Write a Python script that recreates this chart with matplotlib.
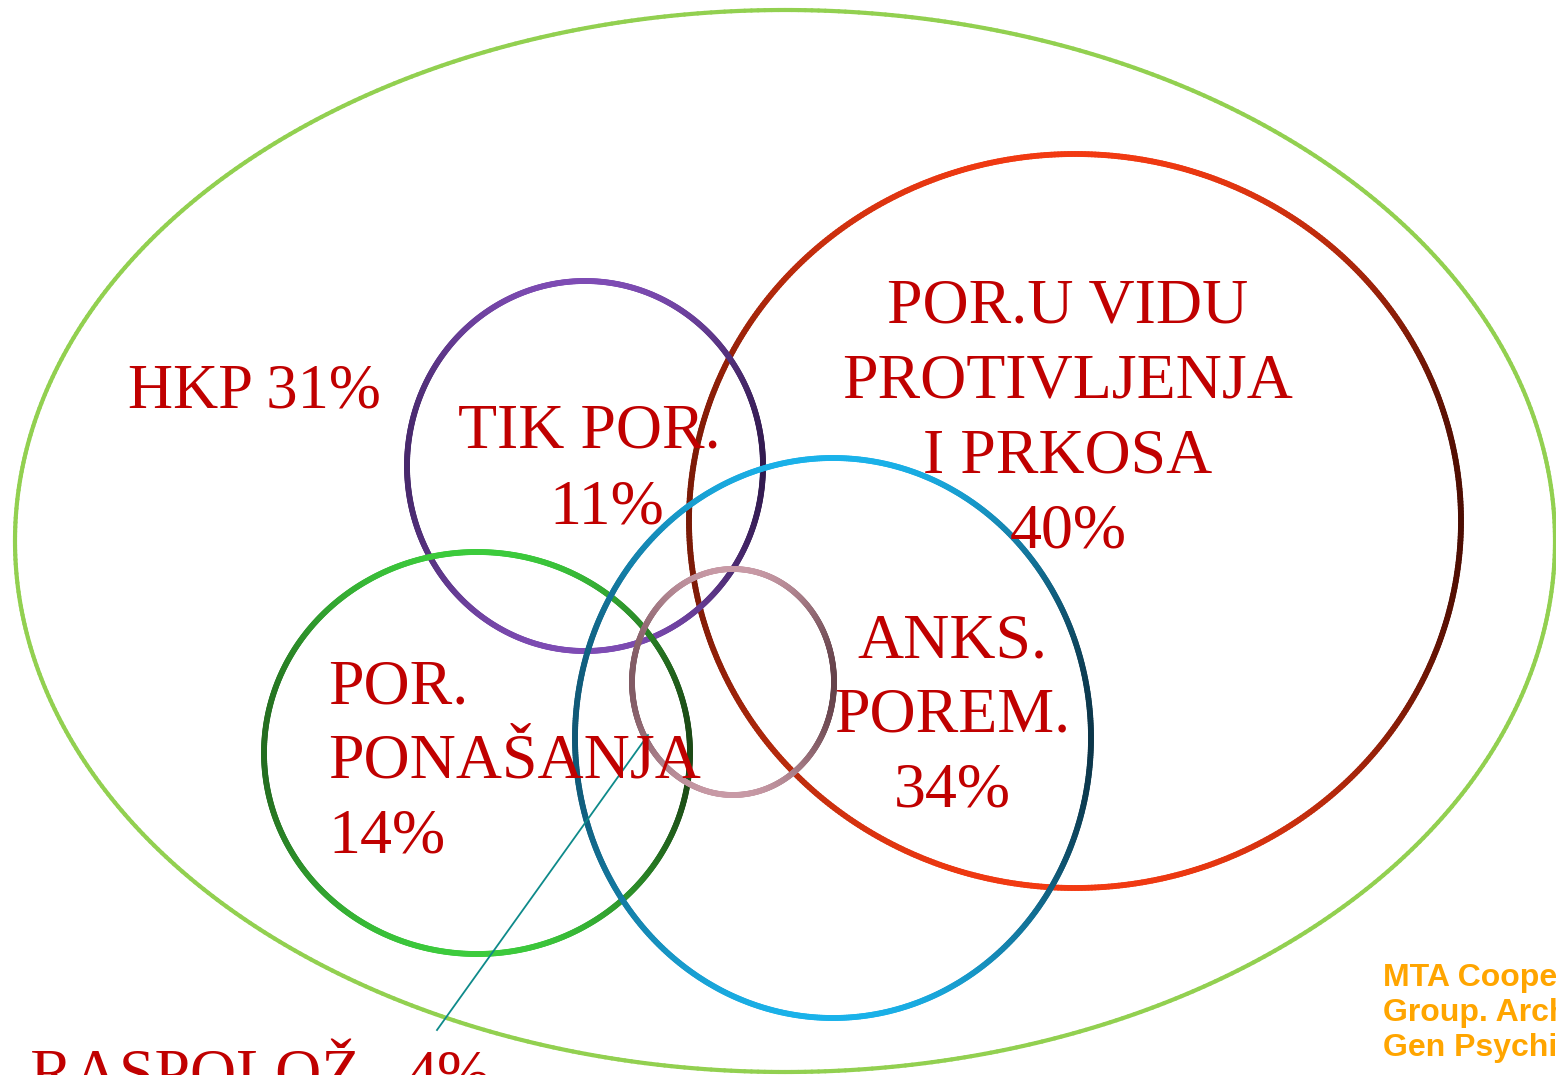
import numpy as np
import matplotlib
matplotlib.use("Agg")
import matplotlib.pyplot as plt
from matplotlib.collections import LineCollection
from matplotlib.colors import to_rgb

# Skupine i postoci
groups = ["HKP", "TIK POR.", "POR.U VIDU\nPROTIVLJENJA\nI PRKOSA", "ANKS.\nPOREM.", "POR.\nPONAŠANJA", "POR. RASPOLOŽ."]
percents = [31, 11, 40, 34, 14, 4]
source = "MTA Cooperative\nGroup. Arch\nGen Psychiatry"

W, H = 1556, 1075
fig = plt.figure(figsize=(W / 100, H / 100), dpi=100)
ax = fig.add_axes([0, 0, 1, 1])
ax.set_xlim(0, W)
ax.set_ylim(H, 0)
ax.axis("off")


def ring(cx, cy, a, b, light, dark, lw, shade=True):
    t = np.linspace(0, 2 * np.pi, 721)
    x = cx + a * np.cos(t)
    y = cy - b * np.sin(t)
    pts = np.column_stack([x, y]).reshape(-1, 1, 2)
    segs = np.concatenate([pts[:-1], pts[1:]], axis=1)
    tm = (t[:-1] + t[1:]) / 2
    c = np.cos(tm)
    w = np.abs(c) ** 2.5 * np.where(c > 0, 0.9, 0.65) if shade else np.zeros_like(tm)
    l, d = np.array(to_rgb(light)), np.array(to_rgb(dark))
    cols = (1 - w)[:, None] * l + w[:, None] * d
    ax.add_collection(LineCollection(segs, colors=cols, linewidths=lw, capstyle="round"))


# vanjska elipsa
ring(785, 541, 770, 531, "#92D050", "#92D050", 3.0, shade=False)
# krugovi
ring(1075, 521, 386, 367, "#F23A12", "#3A0800", 4.2)
ring(585, 466, 178, 185, "#7E4CB4", "#2A1545", 4.2)
ring(477, 753, 213, 201, "#3CCB3C", "#173A10", 4.2)
ring(833, 738, 258, 280, "#1AB2EA", "#0A2838", 4.2)
ring(733, 682, 101, 113, "#C89AA6", "#5A3840", 4.2)

red = "#C00000"
serif = dict(family="Liberation Serif", color=red, fontsize=46)

ax.text(128, 393, f"{groups[0]} {percents[0]}%", ha="left", va="center",
        family="Liberation Serif", color=red, fontsize=45)
ax.text(589, 432, groups[1], ha="center", va="center", **serif)
ax.text(607, 508, f"{percents[1]}%", ha="center", va="center", **serif)
ax.text(1068, 420, f"{groups[2]}\n{percents[2]}%", ha="center", va="center",
        linespacing=1.38, **serif)
ax.text(952, 717, f"{groups[3]}\n{percents[3]}%", ha="center", va="center",
        linespacing=1.38, **serif)
ax.text(328, 763, f"{groups[4]}\n{percents[4]}%", ha="left", va="center",
        linespacing=1.38, **serif)
ax.text(376, 1093, groups[5], ha="right", va="baseline", **serif)
ax.text(406, 1093, f"{percents[5]}%", ha="left", va="baseline", **serif)

# linija za raspoloženje
ax.plot([437, 648], [1030, 735], color="#0E8A8A", lw=1.3)

ax.text(1383, 1013, source, ha="left", va="center", family="Liberation Sans",
        fontweight="bold", color="#FFA500", fontsize=23, linespacing=1.22)

fig.savefig("out.png", dpi=100)
